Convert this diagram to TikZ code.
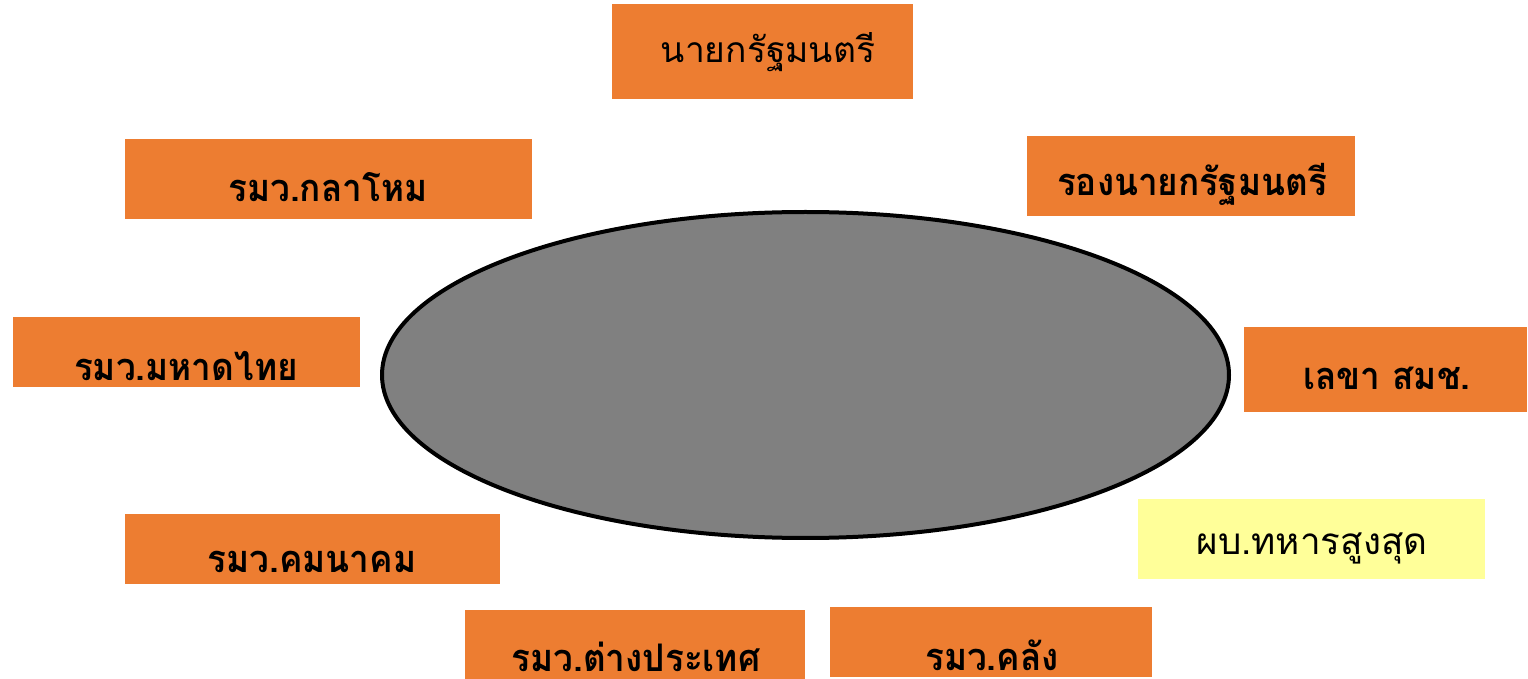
\documentclass[tikz,border=0pt]{standalone}
\usepackage{fontspec}
\newfontfamily\thaifont[Script=Thai]{Loma}
\newfontfamily\thaicond[Script=Thai,FakeStretch=0.925]{Loma}
\definecolor{boxorange}{HTML}{ED7D31}
\definecolor{boxyellow}{HTML}{FFFF99}
\definecolor{ovalgray}{HTML}{808080}
\tikzset{
  orgbox/.style={fill=boxorange, inner sep=0pt, minimum width=#1},
  orgbox/.default=300pt,
  label/.style={font=\thaicond\bfseries\fontsize{19}{22}\selectfont, text=black, inner sep=0pt}
}
\begin{document}
\begin{tikzpicture}[x=0.5pt, y=-0.5pt]
        \useasboundingbox (0,0) rectangle (1528,679);

        % centre oval
        \draw[line width=2pt, fill=ovalgray] (805.5,375) ellipse [x radius=423.5, y radius=163];

        % boxes
        \node[orgbox=150.5pt, minimum height=47.5pt] (pm) at (762.5,51.5) {};
        \node[orgbox=203.5pt, minimum height=40pt] (defence) at (328.5,179) {};
        \node[orgbox=164pt, minimum height=40pt] (dpm) at (1191,176) {};
        \node[orgbox=173.5pt, minimum height=35pt] (interior) at (186.5,352) {};
        \node[orgbox=141.5pt, minimum height=42.5pt] (nsc) at (1385.5,369.5) {};
        \node[orgbox=173.5pt, minimum height=40pt, fill=boxyellow] (supreme) at (1311.5,539) {};
        \node[orgbox=187.5pt, minimum height=35pt] (transport) at (312.5,549) {};
        \node[orgbox=170pt, minimum height=34.5pt] (foreign) at (635,644.5) {};
        \node[orgbox=161pt, minimum height=35pt] (finance) at (991,642) {};

        % labels
        \node[label, font=\thaifont\fontsize{17.7}{21}\selectfont] (pmtext) at (768,52) {นายกรัฐมนตรี};
        \node[label] (defencetext) at (328,187) {รมว.กลาโหม};
        \node[label] (dpmtext) at (1192,184) {รองนายกรัฐมนตรี};
        \node[label] (interiortext) at (186,366) {รมว.มหาดไทย};
        \node[label] (nsctext) at (1387,378) {เลขา สมช.};
        \node[label, font=\thaifont\fontsize{18.4}{21}\selectfont] (supremetext) at (1312,548) {ผบ.ทหารสูงสุด};
        \node[label] (transporttext) at (312,562) {รมว.คมนาคม};
        \node[label] (foreigntext) at (636,657) {รมว.ต่างประเทศ};
        \node[label] (financetext) at (992,655) {รมว.คลัง};
      \end{tikzpicture}
\end{document}
